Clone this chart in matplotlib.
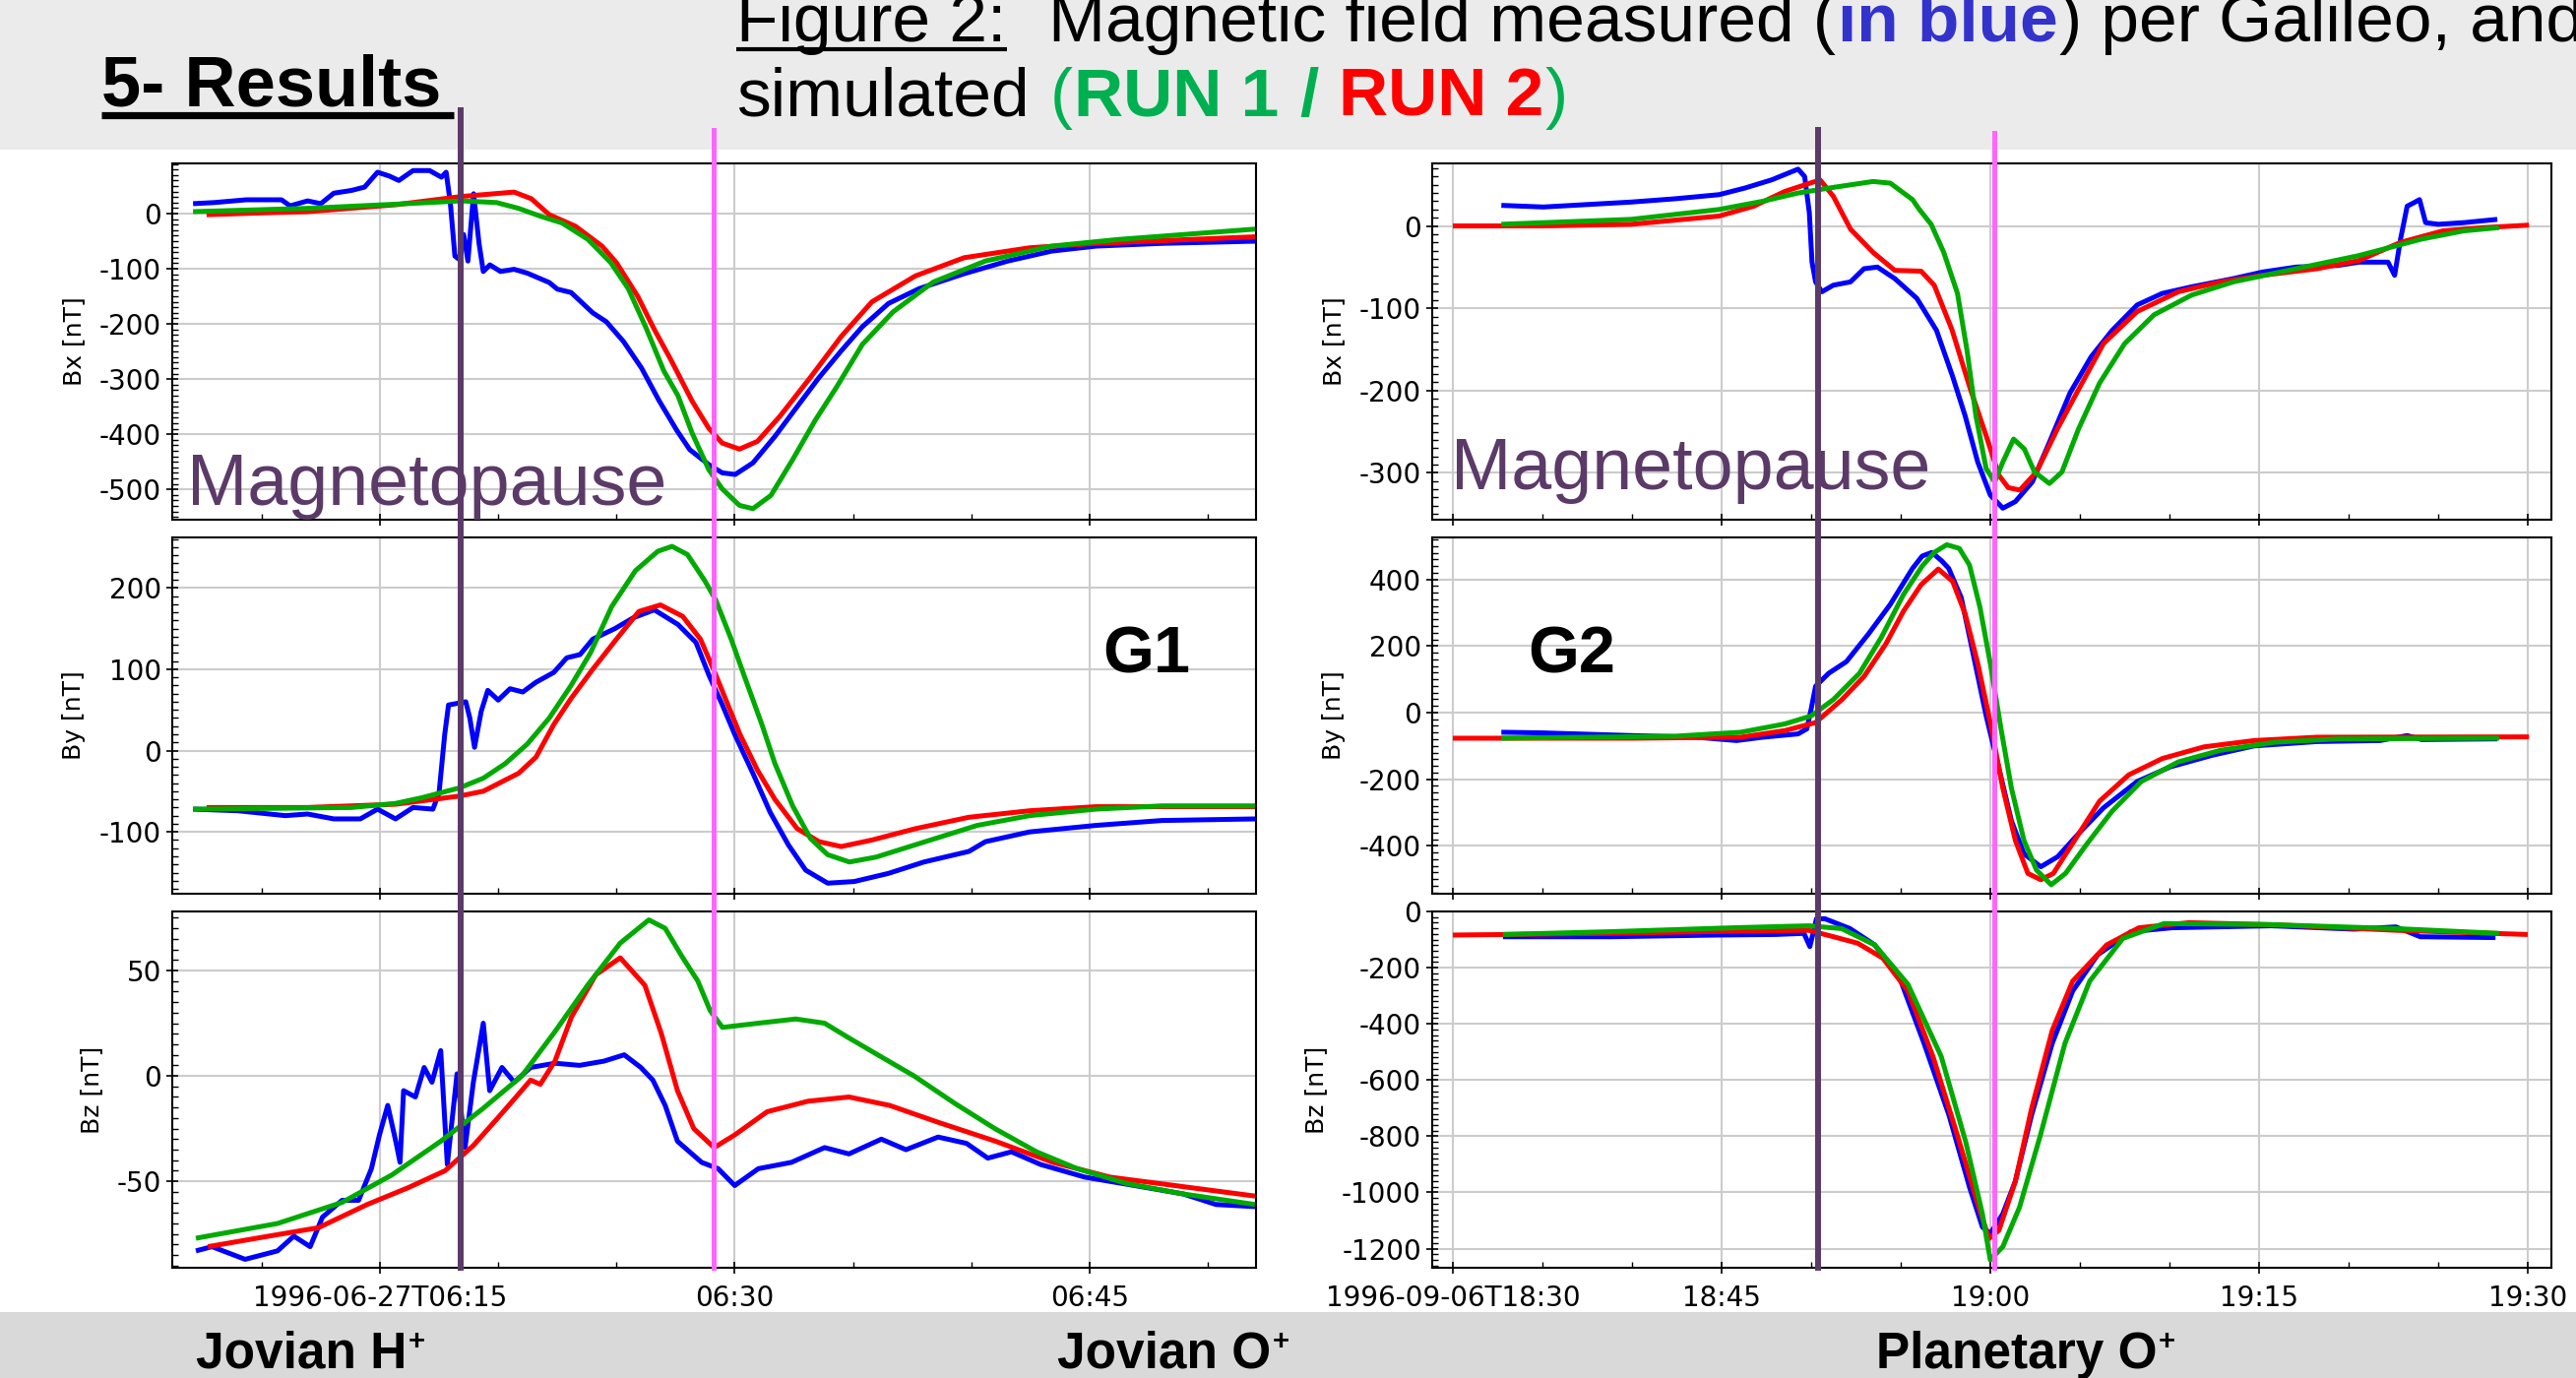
import numpy as np
import matplotlib
matplotlib.use("Agg")
import matplotlib.pyplot as plt
import matplotlib.dates as mdates
from matplotlib.lines import Line2D
from matplotlib.patches import Rectangle
from matplotlib.ticker import FixedLocator, FixedFormatter, AutoMinorLocator

W, H = 2617, 1400
SLIDE_FONT = "Liberation Sans"

# ---------------- data (minutes after the hour base, nT) ----------------
G1_BASE = "1996-06-27T06:00"
G2_BASE = "1996-09-06T18:00"

g1_bx_blue = [(7.1, 18), (8.0, 20), (9.34, 25), (10.84, 25), (11.2, 14), (11.94, 23), (12.5, 18),
              (13.05, 37), (13.8, 42), (14.35, 48), (14.9, 75), (15.4, 68), (15.8, 60), (16.4, 78),
              (17.1, 78), (17.6, 66), (17.8, 75), (17.98, 18), (18.17, -77), (18.35, -83), (18.54, -38),
              (18.72, -86), (18.96, 36), (19.19, -54), (19.37, -105), (19.65, -93), (20.1, -105),
              (20.67, -101), (21.23, -108), (22.16, -125), (22.5, -137), (23.08, -143), (24.0, -180),
              (24.57, -196), (25.3, -232), (26.06, -280), (26.8, -339), (27.55, -393), (28.1, -428),
              (28.9, -455), (29.47, -470), (30.02, -473), (30.77, -452), (31.7, -404), (32.64, -350),
              (33.57, -297), (34.5, -249), (35.4, -205), (36.5, -163), (37.8, -136), (39.7, -109),
              (41.55, -86), (43.4, -68), (45.27, -59), (48.05, -54), (52.04, -50)]
g1_bx_red = [(7.67, -2), (9.8, 1), (11.94, 3.5), (15.66, 16), (18.44, 31), (20.67, 39), (21.4, 27),
             (22.16, -2), (23.27, -23), (24.39, -59), (25.0, -89), (25.9, -150), (26.6, -210),
             (27.3, -265), (28.2, -340), (28.9, -389), (29.47, -416), (30.2, -427), (30.96, -413),
             (31.9, -368), (33.2, -297), (34.5, -223), (35.8, -160), (37.64, -113), (39.7, -80),
             (42.47, -62), (45.27, -54), (52.04, -42)]
g1_bx_green = [(7.1, 3.5), (11.94, 9.5), (15.66, 17), (18.44, 23), (19.93, 20), (20.86, 9.5),
               (21.8, -5), (22.7, -17), (23.8, -47), (24.76, -89), (25.5, -136), (26.25, -207),
               (27.0, -285), (27.6, -330), (28.2, -398), (28.9, -464), (29.47, -499), (30.2, -529),
               (30.77, -535), (31.53, -511), (32.45, -446), (33.4, -375), (34.3, -315), (35.4, -237),
               (36.7, -178), (38.4, -124), (40.6, -86), (43.4, -59), (46.2, -47), (52.04, -28)]

g1_by_blue = [(7.1, -72), (9.0, -74), (11.0, -80), (11.94, -78), (13.05, -84), (14.17, -84), (14.9, -72),
              (15.66, -84), (16.4, -70), (17.24, -72), (17.5, -52), (17.74, 20), (17.9, 56), (18.63, 60),
              (18.8, 40), (19.0, 4), (19.28, 48), (19.56, 74), (20.0, 62), (20.5, 76), (21.04, 72),
              (21.6, 84), (22.35, 96), (22.9, 114), (23.46, 118), (24.0, 137), (24.94, 150), (25.7, 163),
              (26.6, 173), (27.6, 155), (28.36, 133), (28.92, 92), (29.48, 56), (30.0, 20), (30.77, -28),
              (31.5, -76), (32.27, -116), (33.0, -147), (33.93, -163), (35.05, -161), (36.5, -151),
              (38.0, -137), (39.9, -124), (40.6, -112), (42.47, -100), (45.27, -92), (48.05, -86),
              (52.04, -84)]
g1_by_red = [(7.67, -70), (11.94, -70), (15.66, -66), (18.35, -56), (19.37, -50), (20.86, -28),
             (21.6, -8), (22.35, 32), (23.08, 64), (24.0, 100), (25.0, 137), (25.95, 171), (26.86, 179),
             (27.8, 165), (28.55, 137), (29.1, 100), (29.66, 60), (30.22, 20), (30.96, -24), (31.7, -60),
             (32.64, -96), (33.57, -112), (34.5, -118), (35.8, -110), (37.64, -96), (39.9, -82),
             (42.47, -74), (45.27, -69), (52.04, -69)]
g1_by_green = [(7.1, -72), (13.8, -70), (15.66, -65), (16.77, -58), (18.35, -46), (19.37, -34),
               (20.3, -16), (21.23, 8), (22.16, 40), (23.08, 80), (23.9, 120), (24.8, 177), (25.8, 221),
               (26.75, 245), (27.35, 251), (28.0, 241), (28.73, 209), (29.2, 185), (29.85, 137),
               (30.4, 92), (31.15, 32), (31.7, -16), (32.45, -68), (33.2, -108), (33.93, -128),
               (34.85, -137), (35.97, -131), (37.84, -114), (40.25, -92), (42.47, -80), (45.27, -72),
               (48.05, -68), (52.04, -68)]

g1_bz_blue = [(7.22, -83), (7.9, -81), (9.3, -87), (10.67, -83), (11.36, -76), (12.05, -81), (12.57, -67),
              (13.4, -59), (14.1, -59), (14.64, -44), (14.98, -28), (15.33, -14), (15.67, -31), (15.85, -41),
              (16.0, -7), (16.5, -10), (16.87, 4), (17.2, -3), (17.57, 12), (17.85, -42), (18.26, 1),
              (18.6, -34), (18.95, -3), (19.37, 25), (19.64, -7), (20.16, 4), (20.68, -3), (21.37, 4),
              (22.4, 6), (23.44, 5), (24.47, 7), (25.33, 10), (26.03, 4), (26.54, -2), (27.06, -14),
              (27.58, -31), (28.6, -41), (29.3, -44), (30.0, -52), (31.0, -44), (32.4, -41), (33.8, -34),
              (34.83, -37), (36.2, -30), (37.24, -35), (38.6, -29), (39.8, -32), (40.7, -39), (41.7, -36),
              (42.93, -42), (44.8, -48), (46.9, -52), (48.97, -56), (50.35, -61), (52.0, -62)]
g1_bz_red = [(7.73, -81), (10.3, -76), (12.4, -72), (14.46, -61), (16.2, -53), (17.75, -45), (18.95, -33),
             (19.98, -20), (20.68, -11), (21.37, -2), (21.78, -4), (22.4, 7), (23.1, 28), (24.13, 48),
             (25.16, 56), (26.2, 43), (26.9, 20), (27.58, -7), (28.27, -25), (29.13, -34), (30.0, -28),
             (31.37, -17), (33.1, -12), (34.83, -10), (36.55, -14), (38.6, -22), (41.03, -31),
             (43.45, -41), (45.86, -48), (48.6, -52), (52.0, -57)]
g1_bz_green = [(7.22, -77), (10.67, -70), (13.4, -60), (15.5, -47), (17.57, -31), (19.3, -16), (21.0, 0),
               (22.4, 21), (23.78, 43), (25.16, 63), (26.37, 74), (27.06, 70), (27.75, 57), (28.44, 45),
               (28.96, 31), (29.48, 23), (31.0, 25), (32.58, 27), (33.8, 25), (34.83, 18), (36.2, 9),
               (37.58, 0), (39.3, -13), (41.0, -25), (42.76, -36), (44.48, -44), (46.56, -51),
               (48.97, -56), (52.0, -61)]

g2_bx_blue = [(32.71, 25), (35.05, 23), (39.95, 29), (42.4, 33), (44.86, 38), (46.3, 46), (47.8, 56),
              (49.27, 69), (49.64, 60), (49.9, 16), (50.05, -44), (50.25, -68), (50.6, -80), (51.24, -72),
              (52.2, -68), (52.95, -52), (53.7, -50), (54.67, -64), (55.9, -88), (57.0, -127),
              (57.9, -183), (58.6, -231), (59.3, -287), (60.0, -327), (60.7, -343), (61.4, -335),
              (62.35, -311), (63.3, -263), (64.45, -203), (65.63, -159), (66.8, -127), (68.2, -96),
              (69.6, -82), (71.24, -74), (73.57, -64), (75.2, -56), (77.07, -50), (79.4, -48),
              (80.58, -44), (82.2, -44), (82.57, -60), (82.9, -16), (83.27, 24), (83.63, 28),
              (83.96, 32), (84.3, 4), (85.0, 2), (86.43, 4), (88.3, 8)]
g2_bx_red = [(30.0, 0), (35.05, 0), (39.95, 2), (44.86, 12), (46.8, 24), (48.54, 42), (50.5, 56),
             (51.24, 36), (52.2, -4), (53.45, -32), (54.67, -54), (56.14, -55), (56.87, -72),
             (57.86, -126), (58.84, -195), (59.77, -255), (60.48, -303), (61.0, -318), (61.65, -321),
             (62.58, -299), (63.74, -247), (64.92, -199), (66.32, -143), (68.2, -104), (70.5, -80),
             (72.86, -68), (75.2, -60), (78.24, -52), (80.58, -42), (82.9, -20), (85.26, -6),
             (87.6, -2), (90.07, 1)]
g2_bx_green = [(32.71, 2), (39.95, 8), (44.86, 20), (47.3, 30), (49.27, 40), (50.98, 46), (53.45, 54),
               (54.42, 52), (55.66, 32), (56.04, 20), (56.7, 2), (57.4, -32), (58.17, -82), (58.7, -151),
               (59.2, -231), (59.77, -295), (60.25, -311), (60.7, -287), (61.3, -259), (61.9, -271),
               (62.47, -299), (63.3, -313), (64.0, -299), (64.92, -247), (66.1, -191), (67.5, -143),
               (69.14, -108), (71.24, -84), (73.57, -68), (77.07, -52), (80.58, -36), (84.07, -16),
               (86.43, -6), (88.4, -2)]

g2_by_blue = [(32.71, -59), (35.05, -61), (39.95, -69), (43.6, -74), (45.84, -84), (47.3, -74),
              (49.27, -64), (49.76, -49), (50.0, 10), (50.25, 79), (50.98, 118), (51.97, 153),
              (53.2, 236), (54.42, 325), (55.66, 433), (56.2, 470), (56.74, 481), (57.3, 455),
              (57.68, 433), (58.38, 345), (59.08, 167), (59.77, -10), (60.48, -167), (61.18, -325),
              (61.88, -424), (62.82, -463), (63.76, -433), (64.92, -364), (66.32, -286), (68.2, -207),
              (70.05, -163), (72.4, -128), (74.73, -100), (78.24, -87), (81.75, -84), (83.27, -69),
              (84.07, -81), (88.3, -79)]
g2_by_red = [(30.0, -77), (39.95, -77), (46.08, -74), (48.54, -54), (50.25, -30), (51.72, 39),
             (52.95, 108), (54.18, 207), (55.16, 305), (56.14, 384), (57.1, 431), (57.9, 394),
             (58.6, 296), (59.3, 148), (60.0, -30), (60.7, -227), (61.4, -384), (62.1, -483),
             (62.82, -502), (63.52, -483), (64.7, -384), (66.1, -266), (67.73, -187), (69.6, -138),
             (71.93, -103), (74.73, -84), (78.24, -74), (90.07, -73)]
g2_by_green = [(32.71, -77), (42.4, -71), (46.08, -59), (48.54, -34), (50.0, -10), (51.24, 39),
               (52.7, 118), (53.93, 227), (55.16, 355), (56.2, 440), (56.87, 481), (57.57, 504),
               (58.27, 493), (58.84, 443), (59.43, 315), (60.0, 148), (60.6, -49), (61.18, -227),
               (61.88, -384), (62.58, -473), (63.4, -517), (64.2, -483), (65.4, -394), (66.8, -296),
               (68.43, -207), (70.5, -148), (72.86, -113), (75.9, -89), (79.4, -79), (88.4, -77)]

g2_bz_blue = [(32.8, -90), (38.8, -90), (44.8, -84), (48.0, -82), (49.6, -78), (49.93, -125), (50.3, -26),
              (50.77, -26), (52.17, -61), (53.55, -119), (54.94, -236), (56.3, -469), (57.7, -726),
              (58.85, -983), (59.56, -1123), (60.0, -1146), (60.7, -1076), (61.4, -960), (62.3, -726),
              (63.46, -469), (64.6, -283), (66.0, -154), (67.86, -72), (70.16, -58), (75.7, -51),
              (80.3, -63), (82.64, -55), (84.0, -90), (88.2, -93)]
g2_bz_red = [(30.0, -84), (38.8, -78), (45.7, -70), (49.86, -67), (51.25, -90), (52.6, -113), (54.0, -166),
             (55.4, -283), (56.8, -516), (58.16, -796), (59.3, -1041), (59.93, -1164), (60.48, -1135),
             (61.4, -960), (62.3, -703), (63.46, -423), (64.6, -248), (66.5, -119), (68.3, -58),
             (71.1, -40), (75.7, -47), (82.64, -67), (90.0, -82)]
g2_bz_green = [(32.8, -82), (38.8, -72), (45.7, -58), (49.86, -51), (51.7, -61), (53.55, -119),
               (55.4, -259), (57.26, -516), (58.63, -820), (59.56, -1076), (60.0, -1240), (60.7, -1193),
               (61.63, -1053), (62.8, -796), (64.17, -469), (65.55, -248), (67.4, -96), (69.7, -43),
               (75.7, -47), (82.64, -61), (88.4, -78)]

g1_xlim = (6.22, 52.04)
g2_xlim = (28.85, 91.32)
g1_xticks = [15, 30, 45]
g1_xlabels = ["1996-06-27T06:15", "06:30", "06:45"]
g2_xticks = [30, 45, 60, 75, 90]
g2_xlabels = ["1996-09-06T18:30", "18:45", "19:00", "19:15", "19:30"]
g1_events = [18.4, 29.1]      # magnetopause, pink marker
g2_events = [50.38, 60.22]

BLUE, RED, GREEN = "#0000ff", "#ff0000", "#00aa00"
PURPLE, PINK = "#5b3a68", "#ff66ff"


def tt(base, mins):
    return np.datetime64(base) + (np.asarray(mins, dtype=float) * 60000).astype("timedelta64[ms]")


def px(x, y):
    return x / W, 1 - y / H


fig = plt.figure(figsize=(W / 100, H / 100), dpi=100)

# background / slide layer in pixel coordinates
bg = fig.add_axes([0, 0, 1, 1], zorder=-1)
bg.set_xlim(0, W)
bg.set_ylim(H, 0)
bg.axis("off")
bg.add_patch(Rectangle((0, 0), W, 152, color="#ebebeb", lw=0))
bg.add_patch(Rectangle((0, 1333), W, 67, color="#d9d9d9", lw=0))


def panel(rect, base, curves, ylim, yticks, ylabel, xlim, xticks, xlabels, show_x):
    ax = fig.add_axes(rect)
    for data, col in curves:
        m, v = zip(*data)
        ax.plot(tt(base, m), v, color=col, lw=3.6, solid_capstyle="butt")
    ax.set_xlim(tt(base, [xlim[0]])[0], tt(base, [xlim[1]])[0])
    ax.set_ylim(*ylim)
    ax.xaxis.set_major_locator(FixedLocator(mdates.date2num(tt(base, xticks))))
    ax.xaxis.set_minor_locator(mdates.MinuteLocator(byminute=range(0, 60, 5)))
    if show_x:
        ax.xaxis.set_major_formatter(FixedFormatter(xlabels))
    else:
        ax.set_xticklabels([])
    ax.set_yticks(yticks)
    ax.set_yticklabels([str(v) for v in yticks])
    ax.yaxis.set_minor_locator(AutoMinorLocator(10))
    ax.grid(True, which="major", color="#cccccc", lw=1.5)
    ax.tick_params(axis="both", which="major", direction="inout", length=8, width=1.2, labelsize=20)
    ax.tick_params(axis="y", which="major", pad=4)
    ax.tick_params(axis="x", which="major", pad=8)
    ax.tick_params(axis="both", which="minor", direction="in", length=4, width=1)
    for s in ax.spines.values():
        s.set_linewidth(1.5)
    ax.set_ylabel(ylabel, fontsize=18, labelpad=10)
    return ax


rows = [(166, 528), (546, 908), (926, 1288)]


def rect(x0, x1, r):
    return [x0 / W, 1 - r[1] / H, (x1 - x0) / W, (r[1] - r[0]) / H]


g1 = [
    panel(rect(175, 1276, rows[0]), G1_BASE, [(g1_bx_blue, BLUE), (g1_bx_red, RED), (g1_bx_green, GREEN)],
          (-555, 91), [-500, -400, -300, -200, -100, 0], "Bx [nT]", g1_xlim, g1_xticks, g1_xlabels, False),
    panel(rect(175, 1276, rows[1]), G1_BASE, [(g1_by_blue, BLUE), (g1_by_red, RED), (g1_by_green, GREEN)],
          (-176, 262), [-100, 0, 100, 200], "By [nT]", g1_xlim, g1_xticks, g1_xlabels, False),
    panel(rect(175, 1276, rows[2]), G1_BASE, [(g1_bz_blue, BLUE), (g1_bz_red, RED), (g1_bz_green, GREEN)],
          (-91, 78), [-50, 0, 50], "Bz [nT]", g1_xlim, g1_xticks, g1_xlabels, True),
]
g2 = [
    panel(rect(1455, 2592, rows[0]), G2_BASE, [(g2_bx_blue, BLUE), (g2_bx_red, RED), (g2_bx_green, GREEN)],
          (-357, 76), [-300, -200, -100, 0], "Bx [nT]", g2_xlim, g2_xticks, g2_xlabels, False),
    panel(rect(1455, 2592, rows[1]), G2_BASE, [(g2_by_blue, BLUE), (g2_by_red, RED), (g2_by_green, GREEN)],
          (-544, 526), [-400, -200, 0, 200, 400], "By [nT]", g2_xlim, g2_xticks, g2_xlabels, False),
    panel(rect(1455, 2592, rows[2]), G2_BASE, [(g2_bz_blue, BLUE), (g2_bz_red, RED), (g2_bz_green, GREEN)],
          (-1268, 0), [-1200, -1000, -800, -600, -400, -200, 0], "Bz [nT]", g2_xlim, g2_xticks, g2_xlabels, True),
]

# vertical event lines spanning each column (through the data transform)
inv = fig.transFigure.inverted()
for ax, base, events, tops in [(g1[0], G1_BASE, g1_events, (112, 132)), (g2[0], G2_BASE, g2_events, (132, 135))]:
    for ev, col, lw, top in zip(events, (PURPLE, PINK), (4.3, 3.6), tops):
        xd = mdates.date2num(tt(base, [ev])[0])
        xf = inv.transform(ax.transData.transform((xd, 0)))[0]
        fig.add_artist(Line2D([xf, xf], [1 - 1288 / H, 1 - top / H], transform=fig.transFigure,
                              color=col, lw=lw, zorder=5))

# slide texts
fig.text(*px(190, 513), "Magnetopause", fontsize=53, family=SLIDE_FONT, color=PURPLE, va="baseline", zorder=3)
fig.text(*px(1474, 497), "Magnetopause", fontsize=53, family=SLIDE_FONT, color=PURPLE, va="baseline", zorder=3)
fig.text(*px(1120, 683), "G1", fontsize=48, family=SLIDE_FONT, fontweight="bold", va="baseline", zorder=3)
fig.text(*px(1552, 683), "G2", fontsize=48, family=SLIDE_FONT, fontweight="bold", va="baseline", zorder=3)

bg.text(103, 107, "5- Results", fontsize=52, family=SLIDE_FONT, fontweight="bold", va="baseline")
bg.plot([103, 461], [117, 117], color="black", lw=5.2, solid_capstyle="butt")


def chain(x, y, parts, size):
    prev = None
    for text, col, weight, gap in parts:
        kw = dict(fontsize=size, family=SLIDE_FONT, color=col, fontweight=weight)
        if prev is None:
            prev = bg.text(x, y, text, va="baseline", **kw)
        else:
            prev = bg.annotate(text, xy=(1, 0), xycoords=prev, xytext=(gap * size, 0),
                               textcoords="offset points", va="bottom", ha="left", **kw)
    return prev


chain(748, 42, [("Figure 2:", "black", "normal", 0),
                ("Magnetic field measured (", "black", "normal", 0.62),
                ("in blue", "#3333cc", "bold", 0.02),
                (") per Galileo, and", "black", "normal", 0.02)], 50)
chain(748, 118, [("simulated", "black", "normal", 0),
                 ("(", "#00b050", "normal", 0.3),
                 ("RUN 1", "#00b050", "bold", 0.02),
                 ("/", "#00b050", "bold", 0.3),
                 ("RUN 2", "#ff0000", "bold", 0.3),
                 (")", "#00b050", "normal", 0.02)], 50)
bg.plot([748, 1023], [50, 50], color="black", lw=3, solid_capstyle="butt")

for x, label in [(199, "Jovian H"), (1074, "Jovian O"), (1906, "Planetary O")]:
    t = bg.text(x, 1390, label, fontsize=37, family=SLIDE_FONT, fontweight="bold", va="baseline")
    bg.annotate("+", xy=(1, 1), xycoords=t, xytext=(1, 2), textcoords="offset points",
                va="top", ha="left", fontsize=21, family=SLIDE_FONT, fontweight="bold")

fig.savefig("out.png", dpi=100)
